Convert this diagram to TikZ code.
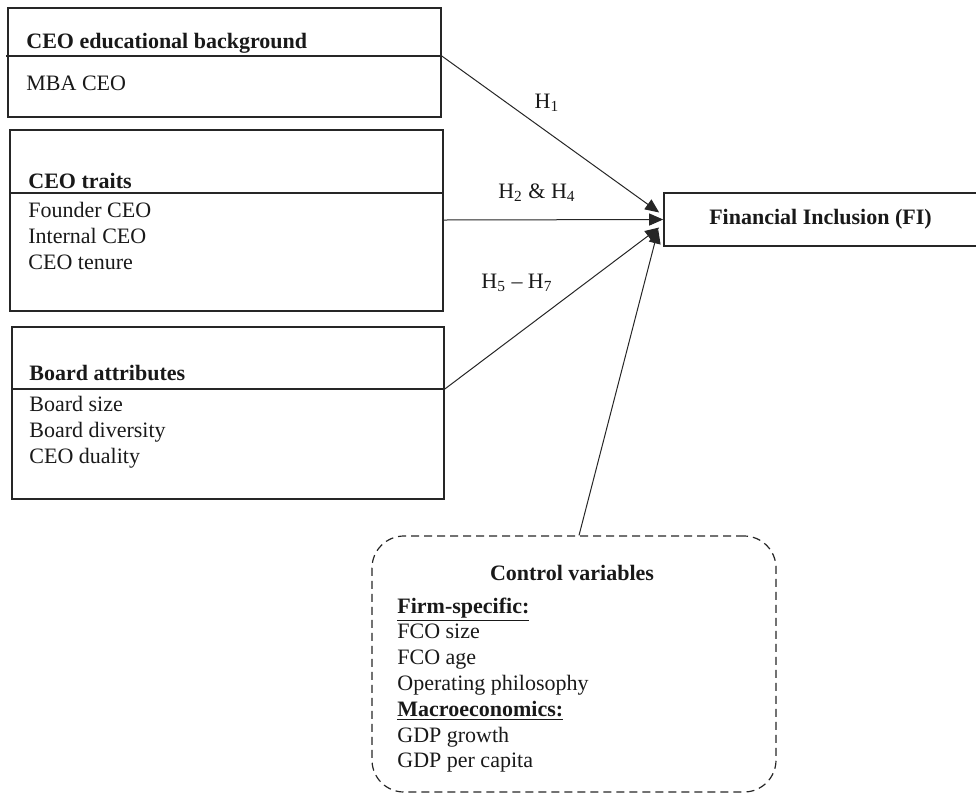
\documentclass[tikz,border=0pt]{standalone}
\usepackage{fontspec}
\setmainfont{Liberation Serif}
\usepackage{tikz}
\usetikzlibrary{arrows.meta}
\usetikzlibrary{positioning}

\begin{document}
\begin{tikzpicture}[x=0.5pt, y=-0.5pt,
        font=\fontsize{11}{13}\selectfont, text=black!90,
        group/.style={rectangle, draw=black!85, line width=0.8pt, inner sep=0pt},
        outcome/.style={rectangle, draw=black!85, line width=0.8pt, inner sep=0pt, minimum width=156.5pt, minimum height=26.5pt},
        control/.style={rectangle, draw=black!85, dash pattern=on 4pt off 2.5pt, line width=0.6pt, rounded corners=16pt, inner sep=0pt, minimum width=202pt, minimum height=128pt},
        item/.style={anchor=base west, inner sep=0pt},
        link/.style={-{Triangle[length=7pt, width=6pt]}, line width=0.5pt, black!85}
      ]
        \useasboundingbox (0,0) rectangle (976,794);

        % boxes on the left
        \node[group, minimum width=216.5pt, minimum height=54.5pt]  (edu)    at (224.5, 62.5)  {};
        \node[group, minimum width=216.5pt, minimum height=90.5pt]  (traits) at (226.5, 220.5) {};
        \node[group, minimum width=216pt, minimum height=86pt]      (board)  at (228, 413)     {};

        \draw[line width=0.8pt, black!85] ([xshift=-0.5pt]edu.west |- 0,56)    -- (edu.east |- 0,56);
        \draw[line width=0.8pt, black!85] (traits.west |- 0,193)               -- (traits.east |- 0,193);
        \draw[line width=0.8pt, black!85] (board.west |- 0,389)                -- (board.east |- 0,389);

        \node[item] (eduhead)    at (26, 48)   {\textbf{CEO educational background}};
        \node[item] (mba)        at (26, 90)   {MBA CEO};

        \node[item] (traithead)  at (28, 188)  {\textbf{CEO traits}};
        \node[item] (founder)    at (28, 217)  {Founder CEO};
        \node[item] (internal)   at (28, 243)  {Internal CEO};
        \node[item] (tenure)     at (28, 269)  {CEO tenure};

        \node[item] (boardhead)  at (29, 380)  {\textbf{Board attributes}};
        \node[item] (bsize)      at (29, 411)  {Board size};
        \node[item] (bdiv)       at (29, 437)  {Board diversity};
        \node[item] (duality)    at (29, 463)  {CEO duality};

        % outcome
        \node[outcome] (fi) at (820.5, 219.5) {\textbf{Financial Inclusion (FI)}};

        % controls
        \node[control] (ctrl) at (574, 664) {};
        \node[anchor=base, inner sep=0pt] (ctrlhead) at (572, 580) {\textbf{Control variables}};
        \foreach \txt [count=\i] in {\underline{\textbf{Firm-specific:}}, FCO size, FCO age, Operating philosophy,
                                     \underline{\textbf{Macroeconomics:}}, GDP growth, GDP per capita}
          \node[item] (ctrl\i) at (397, 613+25.8*\i-25.8) {\txt};

        % hypotheses
        \draw[link] (edu.east |- 0,56)     -- ([shift={(-2pt,3.5pt)}]fi.west);
        \draw[link] (traits.east |- 0,220) -- (fi.west);
        \draw[link] (board.east |- 0,389)  -- ([shift={(-2pt,-4pt)}]fi.west);
        \draw[link] ([xshift=2.5pt]ctrl.north) -- ([shift={(-2.5pt,-5pt)}]fi.west);

        \node (h1)  at (547, 103) {H\textsubscript{1}};
        \node (h24) at (537, 193) {H\textsubscript{2} \& H\textsubscript{4}};
        \node (h57) at (517, 283) {H\textsubscript{5} – H\textsubscript{7}};
\end{tikzpicture}
\end{document}
